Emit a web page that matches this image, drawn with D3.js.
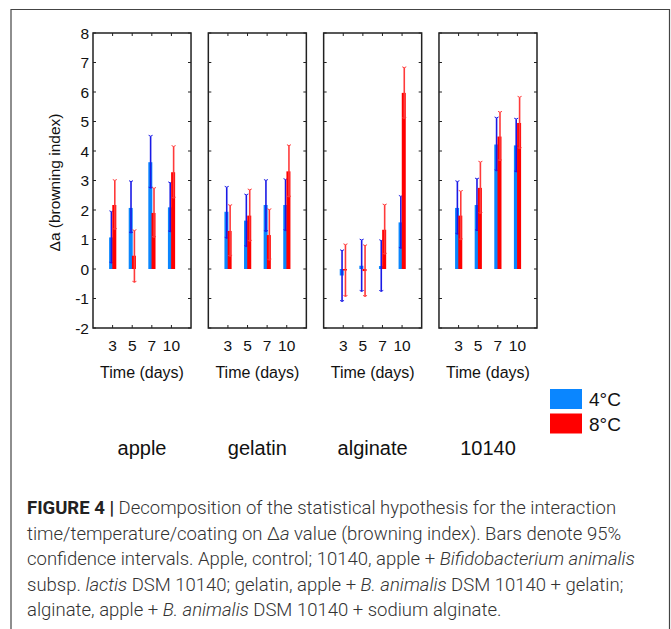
<!DOCTYPE html>
<html>
<head>
<meta charset="utf-8">
<script src="https://cdn.jsdelivr.net/npm/d3@7"></script>
<style>
  body { margin: 0; background: #fff; }
  svg { display: block; }
</style>
</head>
<body>
<div id="graph-container"></div>
<script>
// Data: Δa mean and 95% CI, per coating, per time
const coatings = ["apple", "gelatin", "alginate", "10140"];
const times = ["3", "5", "7", "10"];
const yTicks = [-2, -1, 0, 1, 2, 3, 4, 5, 6, 7, 8];

// 4°C
const mean4 = [
  [1.07, 2.07, 3.62, 2.09],
  [1.94, 1.64, 2.17, 2.17],
  [-0.22, 0.11, 0.10, 1.58],
  [2.07, 2.17, 4.22, 4.19]
];
const low4 = [
  [0.20, 1.22, 2.74, 1.26],
  [1.04, 0.76, 1.27, 1.30],
  [-1.10, -0.76, -0.76, 0.70],
  [1.18, 1.30, 3.33, 3.29]
];
const high4 = [
  [1.94, 2.96, 4.50, 2.92],
  [2.77, 2.51, 3.00, 3.03],
  [0.62, 0.98, 0.96, 2.46],
  [2.96, 3.05, 5.12, 5.08]
];

// 8°C
const mean8 = [
  [2.17, 0.45, 1.90, 3.28],
  [1.29, 1.81, 1.15, 3.31],
  [-0.05, -0.07, 1.33, 5.97],
  [1.81, 2.75, 4.49, 4.95]
];
const low8 = [
  [1.34, -0.45, 1.07, 2.40],
  [0.43, 0.94, 0.30, 2.44],
  [-0.93, -0.93, 0.50, 5.10],
  [0.99, 1.88, 3.67, 4.08]
];
const high8 = [
  [3.00, 1.30, 2.73, 4.15],
  [2.15, 2.68, 2.01, 4.18],
  [0.82, 0.79, 2.17, 6.82],
  [2.63, 3.62, 5.31, 5.82]
];

const legendLabels = ["4°C", "8°C"];
const colors = { bar4: "#0a86ff", err4: "#1a1ae6", bar8: "#ff0000", err8: "#ff3a3a" };

const w = 671, h = 629;

const svg = d3.select("#graph-container").append("svg")
  .attr("width", w)
  .attr("height", h);

// outer figure frame
svg.append("path")
  .attr("d", `M11,${h} V9.5 H669.5 V${h}`)
  .attr("fill", "none")
  .attr("stroke", "#444")
  .attr("stroke-width", 1.2);

// Scales
const panelX = d3.scaleBand()
  .domain(coatings)
  .range([93, 537])
  .paddingInner(0.15);

const y = d3.scaleLinear()
  .domain([-2, 8])
  .range([328, 33]);

const x = d3.scalePoint()
  .domain(times)
  .range([0, panelX.bandwidth()])
  .padding(1);

const chartFont = "'Liberation Sans', Arial, sans-serif";

coatings.forEach((c, pi) => {
  const g = svg.append("g")
    .attr("transform", `translate(${panelX(c)},0)`);

  const pw = panelX.bandwidth();

  // bars and error bars
  const rows = times.map((t, i) => ({
    t,
    m4: mean4[pi][i], l4: low4[pi][i], h4: high4[pi][i],
    m8: mean8[pi][i], l8: low8[pi][i], h8: high8[pi][i]
  }));

  const drawBar = (key, dx, bw, color) => {
    g.selectAll(null)
      .data(rows)
      .enter()
      .append("rect")
      .attr("x", d => x(d.t) + dx)
      .attr("width", bw)
      .attr("y", d => Math.min(y(d[key]), y(0)))
      .attr("height", d => Math.abs(y(d[key]) - y(0)))
      .attr("fill", color);
  };

  const drawErr = (lo, hi, dx, color) => {
    const eg = g.selectAll(null)
      .data(rows)
      .enter()
      .append("g")
      .attr("stroke", color)
      .attr("fill", "none");
    eg.append("line")
      .attr("x1", d => x(d.t) + dx).attr("x2", d => x(d.t) + dx)
      .attr("y1", d => y(d[lo])).attr("y2", d => y(d[hi]))
      .attr("stroke-width", 1.6);
    [lo, hi].forEach(k => {
      eg.append("path")
        .attr("d", d => {
          const cx = x(d.t) + dx, cy = y(d[k]);
          return `M${cx - 2},${cy - 1} L${cx},${cy} L${cx + 2},${cy - 1}`;
        })
        .attr("stroke-width", 1);
    });
  };

  drawBar("m4", -3.5, 4, colors.bar4);
  drawErr("l4", "h4", -1.2, colors.err4);
  drawBar("m8", -0.3, 4, colors.bar8);
  drawErr("l8", "h8", 2.2, colors.err8);

  // inward ticks on all four sides
  const tickG = g.append("g").attr("stroke", "#222").attr("stroke-width", 1);
  tickG.selectAll(null).data(yTicks).enter().append("path")
    .attr("d", d => `M0,${y(d)} h3 M${pw},${y(d)} h-3`);
  tickG.selectAll(null).data(times).enter().append("path")
    .attr("d", d => `M${x(d)},${y(-2)} v-3 M${x(d)},${y(8)} v3`);

  // panel frame
  g.append("rect")
    .attr("x", 0).attr("y", y(8))
    .attr("width", pw).attr("height", y(-2) - y(8))
    .attr("fill", "none")
    .attr("stroke", "#222")
    .attr("stroke-width", 1.5);

  // x tick labels
  g.selectAll(null).data(times).enter().append("text")
    .attr("x", d => x(d))
    .attr("y", 351)
    .attr("text-anchor", "middle")
    .style("font-family", chartFont)
    .style("font-size", "15.5px")
    .attr("fill", "#111")
    .text(d => d);

  g.append("text")
    .attr("x", pw / 2)
    .attr("y", 378)
    .attr("text-anchor", "middle")
    .style("font-family", chartFont)
    .style("font-size", "16px")
    .attr("fill", "#111")
    .text("Time (days)");

  g.append("text")
    .attr("x", pw / 2)
    .attr("y", 455)
    .attr("text-anchor", "middle")
    .style("font-family", chartFont)
    .style("font-size", "20px")
    .attr("fill", "#111")
    .text(c);
});

// y axis labels (left of first panel)
svg.selectAll(".ytick").data(yTicks).enter().append("text")
  .attr("class", "ytick")
  .attr("x", 89)
  .attr("y", d => y(d) + 5.5)
  .attr("text-anchor", "end")
  .style("font-family", chartFont)
  .style("font-size", "15.5px")
  .attr("fill", "#111")
  .text(d => d);

svg.append("text")
  .attr("transform", `translate(60,${(y(8) + y(-2)) / 2 + 2}) rotate(-90)`)
  .attr("text-anchor", "middle")
  .style("font-family", chartFont)
  .style("font-size", "15.5px")
  .attr("fill", "#111")
  .text("Δa (browning index)");

// legend
const legend = svg.append("g").attr("transform", "translate(550,389)");
legendLabels.forEach((lab, i) => {
  legend.append("rect")
    .attr("x", 0).attr("y", i * 24.5)
    .attr("width", 32).attr("height", 20)
    .attr("fill", i === 0 ? colors.bar4 : colors.bar8);
  legend.append("text")
    .attr("x", 39).attr("y", i * 24.5 + 17)
    .style("font-family", chartFont)
    .style("font-size", "19px")
    .attr("fill", "#111")
    .text(lab);
});

// caption
const capFont = "Roboto, 'Liberation Sans', sans-serif";
const capLines = [
  [["FIGURE 4 |", "b"], [" Decomposition of the statistical hypothesis for the interaction", ""]],
  [["time/temperature/coating on ", ""], ["Δ", ""], ["a", "i"], [" value (browning index). Bars denote 95%", ""]],
  [["confidence intervals. Apple, control; 10140, apple + ", ""], ["Bifidobacterium animalis", "i"]],
  [["subsp. ", ""], ["lactis", "i"], [" DSM 10140; gelatin, apple + ", ""], ["B. animalis", "i"], [" DSM 10140 + gelatin;", ""]],
  [["alginate, apple + ", ""], ["B. animalis", "i"], [" DSM 10140 + sodium alginate.", ""]]
];
const capTexts = capLines.map((line, i) => {
  const t = svg.append("text")
    .attr("x", 27)
    .attr("y", 514 + i * 25.6)
    .style("font-family", capFont)
    .style("font-size", "17px")
    .attr("fill", "#333");
  line.forEach(([s, st]) => {
    t.append("tspan")
      .style("font-weight", st === "b" ? 700 : 300)
      .style("font-style", st === "i" ? "italic" : "normal")
      .attr("fill", st === "b" ? "#222" : "#333")
      .text(s);
  });
  return t;
});
// first caption line runs to about x = 616 in the figure; size the font to match
const firstW = capTexts[0].node().getComputedTextLength();
const capSize = 17 * 589 / firstW;
capTexts.forEach(t => t.style("font-size", capSize.toFixed(2) + "px"));
</script>
</body>
</html>
